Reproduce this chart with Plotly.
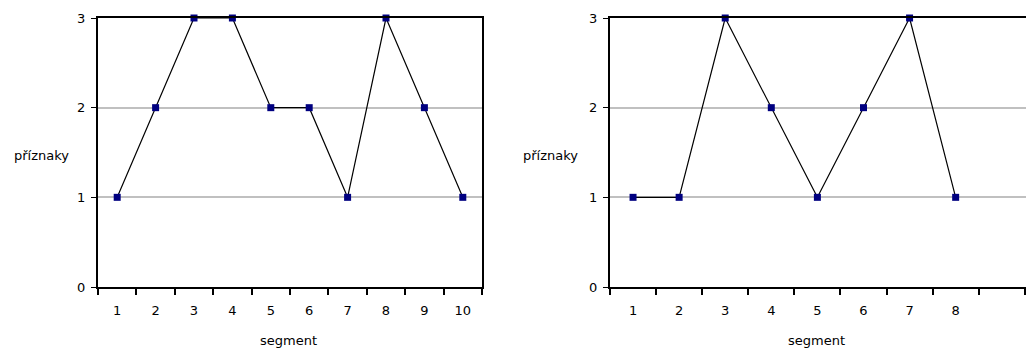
import plotly.graph_objects as go
from plotly.subplots import make_subplots

# data
segments_a = [1, 2, 3, 4, 5, 6, 7, 8, 9, 10]
features_a = [1, 2, 3, 3, 2, 2, 1, 3, 2, 1]

segments_b = [1, 2, 3, 4, 5, 6, 7, 8]
features_b = [1, 1, 3, 2, 1, 2, 3, 1]

y_ticks = [0, 1, 2, 3]
x_title = "segment"
y_title = "příznaky"

font = dict(family="DejaVu Sans", size=13, color="black")
navy = "#000080"

# page body adds an 8px margin, so the figure is 8px smaller than the window
W, H = 1026, 346
top, bottom = 10, 279

fig = make_subplots(rows=1, cols=2)

for col, (xs, ys) in enumerate([(segments_a, features_a), (segments_b, features_b)], start=1):
    fig.add_trace(go.Scatter(
        x=xs, y=ys,
        mode="lines+markers",
        line=dict(color="black", width=1.2),
        marker=dict(symbol="square", size=7, color=navy),
        cliponaxis=False,
        showlegend=False,
        hoverinfo="skip",
    ), row=1, col=col)

common_x = dict(
    tickmode="array",
    ticks="",
    showgrid=False,
    zeroline=False,
    showline=True,
    linecolor="black",
    linewidth=2,
    mirror=True,
    tickfont=font,
    ticklabelstandoff=10,
    minor=dict(ticks="outside", ticklen=6, tickcolor="black", tickwidth=2,
               tick0=0.5, dtick=1, showgrid=False),
)
fig.update_xaxes(common_x)
fig.update_xaxes(domain=[90 / W, 474 / W], range=[0.5, len(segments_a) + 0.5],
                 tickvals=segments_a, ticktext=[str(s) for s in segments_a], row=1, col=1)
fig.update_xaxes(domain=[602 / W, 1.0], range=[0.5, 9.7],
                 tickvals=segments_b, ticktext=[str(s) for s in segments_b], row=1, col=2)

fig.update_yaxes(
    range=[0, 3],
    tickvals=y_ticks,
    ticks="outside",
    ticklen=5,
    tickcolor="black",
    tickwidth=1,
    showgrid=True,
    gridcolor="#c0c0c0",
    gridwidth=2,
    zeroline=False,
    showline=True,
    linecolor="black",
    linewidth=2,
    tickfont=font,
    ticklabelstandoff=3,
)
fig.update_yaxes(mirror=True, row=1, col=1)
fig.update_yaxes(mirror=False, row=1, col=2)

# axis titles as plain text, the y one written horizontally
ph = bottom - top
for xc, xm in [(33, 280), (542, 808)]:
    fig.add_annotation(x=xc / W, y=(bottom - 147) / ph, xref="paper", yref="paper",
                       yanchor="middle", xanchor="center", text=y_title,
                       showarrow=False, font=font)
    fig.add_annotation(x=xm / W, y=(bottom - 332) / ph, xref="paper", yref="paper",
                       yanchor="middle", xanchor="center", text=x_title,
                       showarrow=False, font=font)

fig.update_layout(
    width=W, height=H,
    margin=dict(l=0, r=0, t=top, b=H - bottom),
    plot_bgcolor="white",
    paper_bgcolor="white",
    font=font,
)

fig.write_html("out.html")
